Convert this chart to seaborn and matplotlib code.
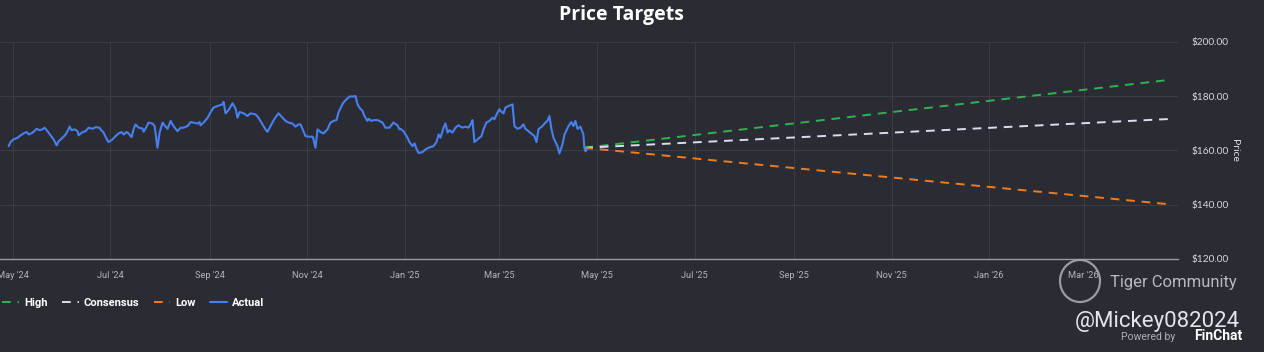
import numpy as np
import pandas as pd
import matplotlib
matplotlib.use("Agg")
import matplotlib.pyplot as plt
from matplotlib.patches import Ellipse
import matplotlib.ticker as mticker
import seaborn as sns

# ---------------- data ----------------
start_date = "2024-05-01"
# day offsets (from start_date) and closing prices of the actual series
actual_days = [
    -2.6, -1.4, 0.5, 3.0, 4.9, 6.7, 8.6, 9.9, 12.4, 14.9, 16.7, 18.6, 19.9, 21.7, 23.6, 25.5,
    27.4, 28.6, 31.1, 33.0, 34.2, 35.5, 36.7, 38.6, 40.5, 41.1, 43.6, 45.5, 47.3, 49.8, 51.7, 54.2,
    54.8, 56.7, 58.6, 59.8, 62.3, 64.2, 66.1, 68.0, 69.2, 71.1, 72.3, 74.2, 75.5, 76.7, 78.6, 81.1,
    81.7, 83.6, 84.8, 87.3, 88.6, 90.4, 91.7, 93.6, 94.8, 96.7, 98.6, 100.4, 102.9, 104.8, 106.7,
    109.2, 111.1, 112.9, 115.4, 116.7,
    117.3, 119.2, 121.7, 123.5, 125.4, 127.9, 129.2, 131.0, 131.7, 132.9, 134.8, 137.3, 139.2,
    140.4, 141.7, 144.2, 146.7, 148.5, 151.7, 153.5, 156.0, 157.9, 159.1, 161.0, 163.5, 166.0,
    168.5, 170.4, 172.3, 174.8, 176.6, 178.5,
    179.8, 181.6, 182.9, 184.8, 187.3, 187.9, 189.1, 190.4, 192.3, 194.1, 196.6, 198.5, 200.4,
    202.2, 203.5, 205.4, 206.6, 208.5, 210.4, 212.9, 214.1, 215.4, 216.6, 218.5, 219.7, 221.6,
    222.2, 224.1, 225.4, 227.9, 231.0, 232.8, 235.3, 237.8, 240.3, 241.6,
    242.2, 244.1, 246.6, 247.8, 249.7, 251.0, 252.2, 253.5, 256.0, 257.8, 259.7, 262.8, 264.7,
    266.0, 267.2, 269.1, 270.3, 271.6, 272.8, 274.7, 276.6, 278.4, 280.9, 282.8, 284.7, 286.6,
    287.2, 288.4, 290.3, 292.8, 294.1, 295.9, 297.8, 299.7, 300.9, 302.8, 304.1,
    304.7, 306.6, 307.8, 309.7, 312.2, 313.4, 315.3, 317.2, 319.0, 320.3, 322.2, 324.7, 325.9,
    327.2, 328.4, 330.9, 332.8, 334.0, 335.3, 336.5, 337.8, 340.3, 341.5, 343.4, 344.7, 347.2,
    349.0, 350.3, 351.5, 352.8, 354.6, 356.5, 357.1, 357.8, 359.0,
]
actual_prices = [
    161.6, 163.1, 164.1, 164.7, 165.6, 166.3, 166.8, 165.9, 166.6, 168.0, 167.5, 167.8, 168.4, 167.1, 165.6, 164.1,
    161.9, 163.4, 164.7, 165.9, 167.1, 168.8, 167.5, 167.8, 167.1, 165.6, 166.8, 167.1, 168.4, 168.0, 168.6, 168.4,
    167.8, 166.6, 164.3, 163.1, 164.1, 165.3, 166.3, 166.8, 165.9, 166.8, 166.3, 164.9, 168.0, 169.6, 168.4, 168.1,
    166.9, 168.8, 170.3, 169.9, 169.0, 161.0, 166.6, 170.3, 169.3, 168.0, 170.9, 169.0, 167.1, 168.4, 168.4,
    169.0, 170.5, 170.3, 169.9, 170.5,
    169.3, 170.3, 172.1, 174.0, 175.8, 176.4, 176.7, 177.0, 177.9, 173.7, 174.9, 177.4, 175.4,
    172.1, 174.2, 173.7, 172.7, 173.7, 173.3, 172.1, 169.6, 167.8, 166.9, 169.0, 171.7, 173.7,
    172.1, 170.9, 170.3, 169.9, 168.8, 169.6,
    169.6, 167.1, 165.3, 165.1, 165.1, 164.1, 161.0, 167.8, 166.8, 166.3, 167.8, 170.3, 170.9,
    171.2, 174.0, 176.4, 177.7, 178.9, 179.9, 179.9, 180.1, 177.0, 175.8, 174.6, 172.7, 170.9,
    171.7, 170.9, 171.2, 171.2, 170.3, 168.4, 168.4, 170.3, 169.3, 167.8,
    168.0, 167.1, 164.7, 163.1, 161.6, 162.6, 160.6, 159.1, 159.4, 160.4, 161.0, 161.6, 163.1,
    165.9, 164.7, 168.4, 170.0, 166.6, 167.5, 166.6, 168.4, 169.3, 168.4, 168.8, 168.4, 170.3,
    171.2, 163.1, 164.1, 165.3, 167.8, 170.3, 170.9, 172.1, 171.5, 174.0, 175.2,
    174.6, 173.7, 175.8, 176.4, 177.0, 169.0, 168.0, 168.4, 169.6, 168.0, 167.1, 165.9, 165.3,
    163.1, 167.8, 169.0, 170.3, 170.9, 172.7, 168.0, 164.7, 161.6, 158.9, 162.2, 165.9, 169.0,
    170.5, 169.0, 170.9, 168.0, 168.8, 165.9, 161.0, 159.7, 160.6,
]

forecast_dates = ["2025-04-23", "2026-04-23"]
high_values = [161.0, 186.0]
consensus_values = [161.0, 171.6]
low_values = [161.0, 140.2]

xtick_dates = ["2024-05-01", "2024-07-01", "2024-09-01", "2024-11-01", "2025-01-01",
               "2025-03-01", "2025-05-01", "2025-07-01", "2025-09-01", "2025-11-01",
               "2026-01-01", "2026-03-01"]
xtick_labels = ["May '24", "Jul '24", "Sep '24", "Nov '24", "Jan '25", "Mar '25", "May '25",
                "Jul '25", "Sep '25", "Nov '25", "Jan '26", "Mar '26"]
yticks = [120, 140, 160, 180, 200]

# ---------------- style ----------------
BG = "#2b2b33"
GRID = "#3c3c46"
sns.set_theme(style="dark")
plt.rcParams["font.family"] = ["Roboto", "DejaVu Sans"]
plt.rcParams["figure.facecolor"] = BG
plt.rcParams["axes.facecolor"] = BG

actual_df = pd.DataFrame({
    "date": pd.Timestamp(start_date) + pd.to_timedelta(actual_days, unit="D"),
    "price": actual_prices,
})
fc_dates = pd.to_datetime(forecast_dates)
fc_df = pd.concat([
    pd.DataFrame({"date": fc_dates, "price": high_values, "series": "High"}),
    pd.DataFrame({"date": fc_dates, "price": consensus_values, "series": "Consensus"}),
    pd.DataFrame({"date": fc_dates, "price": low_values, "series": "Low"}),
])

fig = plt.figure(figsize=(12.64, 3.52), dpi=100)
ax = fig.add_axes([0, 1 - 259 / 352, 1178 / 1264, (259 - 42) / 352])
ax.set_facecolor(BG)

colors = {"High": "#2eb352", "Consensus": "#dcdcf0", "Low": "#f07c1e"}
for name in ["High", "Consensus", "Low"]:
    sub = fc_df[fc_df["series"] == name]
    sns.lineplot(data=sub, x="date", y="price", ax=ax, color=colors[name],
                 linewidth=1.4, dashes=False, linestyle=(0, (4.5, 3.5)), label=name,
                 estimator=None, sort=False)
sns.lineplot(data=actual_df, x="date", y="price", ax=ax, color="#4680f0",
             linewidth=1.5, label="Actual", estimator=None, sort=False)

ax.set_xlim(pd.Timestamp("2024-04-23"), pd.Timestamp("2026-04-29"))
ax.set_ylim(120, 200)
ax.set_xticks(pd.to_datetime(xtick_dates))
ax.set_xticklabels(xtick_labels)
ax.set_yticks(yticks)
ax.yaxis.set_major_formatter(mticker.FuncFormatter(lambda v, p: f"${v:.2f}"))
ax.yaxis.tick_right()
ax.yaxis.set_label_position("right")
ax.tick_params(axis="y", length=0, pad=10, labelsize=7.3, colors="#d8d8e0")
ax.tick_params(axis="x", length=0, pad=9, labelsize=6.7, colors="#b4b4bc")
for lab in ax.get_yticklabels():
    lab.set_family(["Lato", "DejaVu Sans"])
ax.set_xlabel("")
ax.set_ylabel("Price", rotation=270, color="#e0e0e8", fontsize=7.5, labelpad=7)
ax.yaxis.label.set_family(["Lato", "DejaVu Sans"])
ax.grid(True, color=GRID, linewidth=0.8)
for s in ["top", "left", "right"]:
    ax.spines[s].set_visible(False)
ax.spines["bottom"].set_color("#9a9aa2")
ax.spines["bottom"].set_linewidth(1.0)

handles, labels = ax.get_legend_handles_labels()
ax.get_legend().remove()
leg = fig.legend(handles, labels, loc="center left", bbox_to_anchor=(-0.006, 1 - 303 / 352),
                 ncol=4, frameon=False, handlelength=1.5, handletextpad=0.45,
                 columnspacing=1.3, fontsize=8)
for t in leg.get_texts():
    t.set_color("white")
    t.set_fontweight("bold")

fig.text(621 / 1264, 1 - 15 / 352, "Price Targets", ha="center", va="center",
         fontsize=14, fontweight="bold", color="white", family=["Open Sans", "DejaVu Sans"])

# watermark
fig.add_artist(Ellipse((1080 / 1264, 1 - 281 / 352), 40 / 1264, 42 / 352,
                       transform=fig.transFigure, fill=False, edgecolor="#a8a8ae",
                       linewidth=1.6, alpha=0.9))
fig.text(1110 / 1264, 1 - 282 / 352, "Tiger Community", ha="left", va="center",
         fontsize=12, color="#b8b8be", family=["Roboto", "DejaVu Sans"])
fig.text(1240 / 1264, 1 - 321 / 352, "@Mickey082024", ha="right", va="center",
         fontsize=16, color="#e4e4ea", family=["Roboto", "DejaVu Sans"])
fig.text(1175 / 1264, 1 - 337 / 352, "Powered by", ha="right", va="center",
         fontsize=7.5, color="#b0b0b8")
fig.text(1194 / 1264, 1 - 336 / 352, "FinChat", ha="left", va="center",
         fontsize=10, color="white", fontweight="bold")

fig.savefig("out.png", dpi=100, facecolor=BG)
